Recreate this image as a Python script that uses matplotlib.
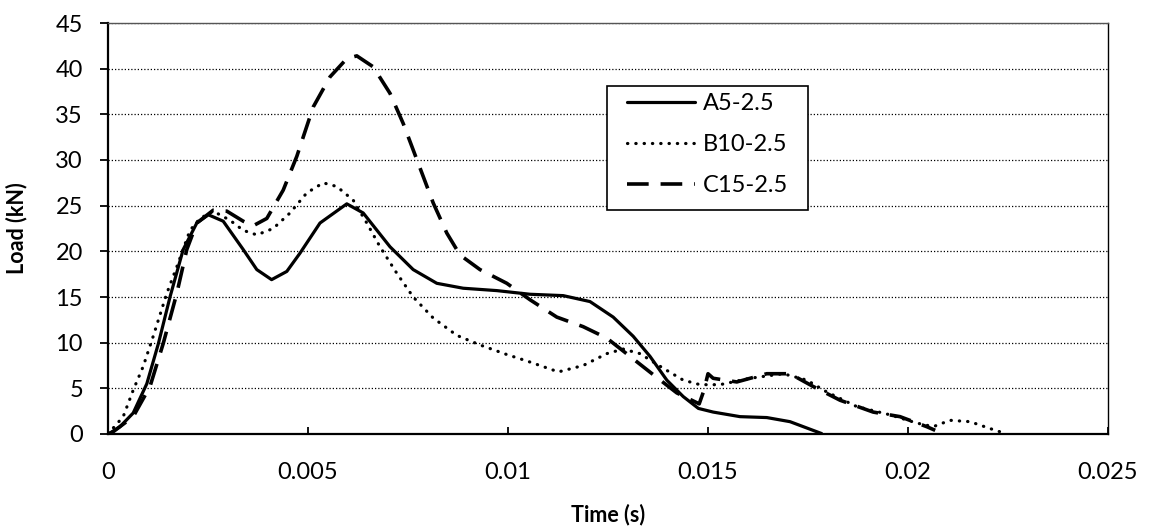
import matplotlib
matplotlib.use("Agg")
import matplotlib.pyplot as plt
from matplotlib.patches import Rectangle

plt.rcParams['font.family'] = ['Lato', 'DejaVu Sans']

# ---- data (time in s, load in kN) ----
t_a5 = [0, 0.00005, 0.0003, 0.00063, 0.00097, 0.00126, 0.00155, 0.00188, 0.00222, 0.00251,
        0.00288, 0.00338, 0.00372, 0.00409, 0.00447, 0.0048, 0.0053, 0.00597, 0.00638, 0.00705,
        0.00763, 0.00822, 0.00888, 0.00972, 0.01055, 0.01138, 0.01205, 0.01263, 0.01313, 0.01355,
        0.01397, 0.01438, 0.01476, 0.01513, 0.0158, 0.01647, 0.01705, 0.01784]
load_a5 = [0, 0.1, 0.8, 2.3, 5.5, 9.9, 15.0, 20.2, 23.1, 24.0,
           23.3, 20.2, 18.0, 16.9, 17.8, 19.8, 23.1, 25.2, 24.2, 20.5,
           18.0, 16.5, 15.96, 15.7, 15.3, 15.15, 14.5, 12.8, 10.7, 8.5,
           5.9, 4.1, 2.8, 2.4, 1.9, 1.8, 1.35, 0.05]

t_b10 = [0, 0.00038, 0.00063, 0.00088, 0.00113, 0.00147, 0.00172, 0.00205, 0.0023, 0.00263,
         0.00305, 0.00338, 0.00372, 0.00413, 0.00455, 0.00497, 0.00538, 0.00572, 0.00613, 0.00647,
         0.0068, 0.00722, 0.00763, 0.00813, 0.00872, 0.0093, 0.00997, 0.01047, 0.01126, 0.01188,
         0.01247, 0.01288, 0.0133, 0.01388, 0.01438, 0.0148, 0.0153, 0.01605, 0.01688, 0.01747,
         0.01797, 0.01872, 0.01955, 0.02022, 0.02063, 0.02105, 0.02155, 0.02205, 0.02247]
load_b10 = [0, 1.9, 4.8, 7.4, 10.7, 15.4, 18.3, 22.3, 23.6, 24.4,
            23.4, 22.3, 21.8, 22.5, 24.2, 26.4, 27.5, 27.1, 25.6, 23.1,
            20.5, 17.6, 15.0, 12.7, 10.8, 9.75, 8.7, 8.0, 6.8, 7.5,
            8.8, 9.3, 8.8, 7.2, 5.9, 5.4, 5.4, 6.1, 6.6, 5.9,
            4.6, 3.0, 2.1, 1.2, 0.8, 1.5, 1.35, 0.6, 0]

t_c15 = [0, 0.00013, 0.00063, 0.00105, 0.00138, 0.00172, 0.00197, 0.00222, 0.00263, 0.00297,
         0.00338, 0.00363, 0.00397, 0.00438, 0.00472, 0.00513, 0.00555, 0.00597, 0.00622, 0.00663,
         0.00705, 0.00738, 0.00763, 0.00788, 0.00813, 0.00847, 0.0088, 0.0093, 0.00997, 0.01055,
         0.01122, 0.01188, 0.01247, 0.01305, 0.01363, 0.01422, 0.01478, 0.0149, 0.015, 0.01513,
         0.01572, 0.01647, 0.01705, 0.01763, 0.0183, 0.01913, 0.0198, 0.02047, 0.02068]
load_c15 = [0, 0.25, 1.9, 5.2, 9.9, 15.4, 20.2, 23.1, 24.5, 24.4,
            23.3, 22.8, 23.6, 26.7, 30.4, 35.8, 39.1, 41.1, 41.4, 40.2,
            37.3, 34.0, 31.1, 28.2, 25.3, 22.0, 19.6, 18.0, 16.5, 14.7,
            12.8, 11.75, 10.5, 8.5, 6.5, 4.5, 3.3, 4.8, 6.6, 6.1,
            5.7, 6.6, 6.6, 5.2, 3.7, 2.4, 1.9, 0.8, 0.4]

series_labels = ["A5-2.5", "B10-2.5", "C15-2.5"]
x_ticks = [0, 0.005, 0.01, 0.015, 0.02, 0.025]
x_tick_labels = ["0", "0.005", "0.01", "0.015", "0.02", "0.025"]
y_ticks = [0, 5, 10, 15, 20, 25, 30, 35, 40, 45]

# ---- figure ----
fig = plt.figure(figsize=(11.52, 5.30), dpi=100)
ax = fig.add_axes([108/1152, 96/530, 1000/1152, 411/530])

ax.plot(t_a5, load_a5, color='black', lw=2.3, solid_capstyle='round',
        solid_joinstyle='round', label=series_labels[0], zorder=3)
ax.plot(t_b10, load_b10, color='black', lw=2.3, linestyle=(0, (0.1, 2.5)),
        dash_capstyle='round', label=series_labels[1], zorder=3)
ax.plot(t_c15, load_c15, color='black', lw=2.6, linestyle=(0, (6.0, 3.3)),
        dash_capstyle='butt', label=series_labels[2], zorder=3)

ax.set_xlim(0, 0.025)
ax.set_ylim(0, 45)
ax.set_xticks(x_ticks)
ax.set_xticklabels(x_tick_labels)
ax.set_yticks(y_ticks)

ax.yaxis.grid(True, color='black', lw=0.9, linestyle=(0, (1, 1.6)))
ax.set_axisbelow(True)

for s in ['left', 'bottom']:
    ax.spines[s].set_linewidth(1.6)
    ax.spines[s].set_color('black')
ax.spines['right'].set_linewidth(1.0)
ax.spines['right'].set_color('black')
ax.spines['top'].set_linewidth(1.0)
ax.spines['top'].set_color('#555555')

ax.tick_params(axis='y', direction='out', length=6, width=1.3, labelsize=17, pad=12, colors='black')
ax.tick_params(axis='x', direction='in', length=5, width=1.3, labelsize=17, pad=20, colors='black')

ax.set_xlabel("Time (s)", fontsize=15.5, fontweight='bold', labelpad=15)
ax.set_ylabel("Load (kN)", fontsize=15.5, fontweight='bold', labelpad=20)

# legend frame (drawn as a box, legend placed inside it)
frame = Rectangle((0.499, 0.545), 0.201, 0.302, transform=ax.transAxes,
                  facecolor='white', edgecolor='black', lw=1.2, zorder=4)
ax.add_patch(frame)
leg = ax.legend(loc='upper left', bbox_to_anchor=(0.519, 0.83), fontsize=17,
                frameon=False, handlelength=2.9, handletextpad=0.3,
                labelspacing=0.85, borderpad=0, borderaxespad=0)
leg.set_zorder(5)

fig.savefig("out.png", dpi=100)
